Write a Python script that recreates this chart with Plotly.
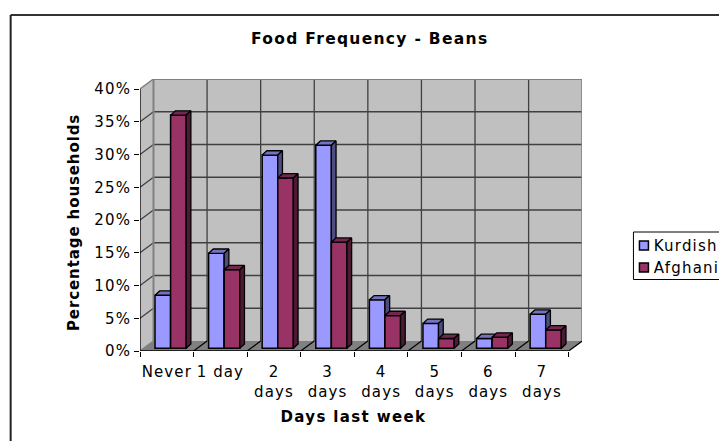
import plotly.graph_objects as go

categories = ["Never", "1 day", "2<br>days", "3<br>days", "4<br>days", "5<br>days", "6<br>days", "7<br>days"]
kurdish = [8.1, 14.5, 29.5, 31.0, 7.4, 3.8, 1.5, 5.2]
afghani = [35.6, 12.0, 26.0, 16.2, 5.0, 1.5, 1.7, 2.8]
y_ticks = [0, 5, 10, 15, 20, 25, 30, 35, 40]
y_labels = [f"{v}%" for v in y_ticks]

W, H = 719, 441
L, R, T, B = 139.5, 582.0, 79.0, 351.0
PX_X, PX_Y = 53.65, 6.55
FONT = "DejaVu Sans"
n = len(categories)
x_range = [-0.5, (R - L) / PX_X - 0.5]
y_range = [0, (B - T) / PX_Y]
ux, uy = 1 / PX_X, 1 / PX_Y
DX, DY = 13.5 * ux, 10 * uy        # wall depth
FX, FY = 3.8 * ux, 2.7 * uy        # bar front-face offset
SX, SY = 4.7 * ux, 4.3 * uy        # bar depth
BW = 15.6 * ux
px = lambda v: (v - L) / (R - L)
py = lambda v: (B - v) / (B - T)
x = list(range(n))

fig = go.Figure()

def add_series(name, vals, col, top, side, off, xa, ya):
    xs = [i + FX + off for i in x]
    fig.add_trace(go.Bar(x=xs, y=vals, base=[FY] * n, width=BW, name=name, marker=dict(color=col, line=dict(color="black", width=1.5)), xaxis=xa, yaxis=ya, showlegend=False))
    for c, poly in ((top, "top"), (side, "side")):
        px_, py_ = [], []
        for xc, v in zip(xs, vals):
            l, r, t = xc - BW / 2, xc + BW / 2, v + FY
            if poly == "top":
                px_ += [l, l + SX, r + SX, r, l, None]
                py_ += [t, t + SY, t + SY, t, t, None]
            else:
                px_ += [r, r + SX, r + SX, r, r, None]
                py_ += [FY, FY + SY, t + SY, t, FY, None]
        fig.add_trace(go.Scatter(x=px_, y=py_, mode="lines", fill="toself", fillcolor=c, line=dict(color="black", width=1.3), xaxis=xa, yaxis=ya, showlegend=False, hoverinfo="skip"))

add_series("Kurdish", kurdish, "#9999ff", "#7373c0", "#4d4d80", -BW / 2, "x", "y")
add_series("Afghani", afghani, "#993366", "#732650", "#4d1a33", BW / 2, "x2", "y2")

shapes = []
def poly(pts, fill):
    path = "M" + "L".join(f"{a},{b}" for a, b in pts) + "Z"
    shapes.append(dict(type="path", path=path, xref="x", yref="y", fillcolor=fill, line=dict(width=0), layer="below"))
def seg(x0, y0, x1, y1, col="#404040", w=1.3):
    shapes.append(dict(type="line", x0=x0, y0=y0, x1=x1, y1=y1, xref="x", yref="y", line=dict(color=col, width=w), layer="below"))

xl, xr = -0.5, n - 0.5
poly([(xl + DX, DY), (xr + DX, DY), (xr + DX, 40 + DY), (xl + DX, 40 + DY)], "#c0c0c0")
poly([(xl, 0), (xl + DX, DY), (xl + DX, 40 + DY), (xl, 40)], "#c0c0c0")
poly([(xl, 0), (xr, 0), (xr + DX, DY), (xl + DX, DY)], "#808080")
for v in y_ticks[1:-1]:
    seg(xl + DX, v + DY, xr + DX, v + DY)
    seg(xl, v, xl + DX, v + DY)
for i in range(1, n):
    seg(i - 0.5 + DX, DY, i - 0.5 + DX, 40 + DY)
for i in range(1, n + 1):
    seg(i - 0.5, 0, i - 0.5 + DX, DY, "black", 1.2)
seg(xl + DX, DY, xl + DX, 40 + DY, "#808080", 2)
seg(xr + DX, DY, xr + DX, 40 + DY, "#808080", 2)
seg(xl + DX, 40 + DY, xr + DX, 40 + DY, "#808080", 2)
seg(xl, 40, xl + DX, 40 + DY, "#808080", 1.5)
seg(xl, 0, xl + DX, DY, "#808080", 1.5)
seg(xl, 0, xl, 40, "black", 1.3)
seg(xl, 0, xr, 0, "black", 1.3)

def pline(x0, y0, x1, y1, col="#333333", w=2):
    shapes.append(dict(type="line", xref="paper", yref="paper", x0=px(x0), y0=py(y0), x1=px(x1), y1=py(y1), line=dict(color=col, width=w)))
def prect(x0, y0, x1, y1, fill, w=1.2):
    shapes.append(dict(type="rect", xref="paper", yref="paper", x0=px(x0), y0=py(y0), x1=px(x1), y1=py(y1), fillcolor=fill, line=dict(color="black", width=w)))
pline(10, 15, W + 5, 15)
pline(10, 15, 10, H + 5, "#222222")
prect(633.5, 232, W + 5, 279.5, "white", 1)
prect(639.5, 241, 648.5, 250, "#9999ff", 1.5)
prect(639.5, 263, 648.5, 272, "#993366", 1.5)

def note(text, xp, yp, size=15, bold=False, angle=0, anchor="center"):
    return dict(text=f"<b>{text}</b>" if bold else text, x=px(xp), y=py(yp), xref="paper", yref="paper", showarrow=False, xanchor=anchor, yanchor="middle", textangle=angle, font=dict(family=FONT, size=size, color="black"))

annotations = [
    note("Days last week", 353.5, 417, 15, True),
    note("Percentage households", 73, 223, 15, True, -90),
    note("Kurdish", 656, 246, 15, anchor="left"),
    note("Afghani", 656, 268, 15, anchor="left"),
]

axis_common = dict(range=x_range, showgrid=False, zeroline=False, showline=False)
fig.update_layout(
    width=W, height=H, autosize=False,
    margin=dict(l=L, r=W - R, t=T, b=H - B, pad=0),
    paper_bgcolor="white", plot_bgcolor="rgba(0,0,0,0)",
    barmode="overlay", showlegend=False,
    title=dict(text="<b>Food Frequency - Beans</b>", x=px(369.5), xref="paper", xanchor="center", y=1 - 39 / H, yanchor="middle", font=dict(family=FONT, size=15.5, color="black")),
    font=dict(family=FONT, size=15, color="black"),
    shapes=shapes, annotations=annotations,
    xaxis=dict(**axis_common, tickmode="array", tickvals=x, ticktext=categories, ticks="", ticklabelstandoff=10,
               minor=dict(tickmode="array", tickvals=[i - 0.5 for i in range(n + 1)], ticks="outside", ticklen=5, tickcolor="black", tickwidth=1.2),
               tickfont=dict(family=FONT, size=15, color="black")),
    yaxis=dict(range=y_range, tickmode="array", tickvals=y_ticks, ticktext=y_labels, ticks="outside", ticklen=5, tickcolor="black", tickwidth=1.2,
               showgrid=False, zeroline=False, showline=False, tickfont=dict(family=FONT, size=15, color="black")),
    xaxis2=dict(**axis_common, overlaying="x", visible=False),
    yaxis2=dict(range=y_range, overlaying="y", visible=False),
)
spacing_js = """
document.body.style.margin='0';document.body.style.overflow='hidden';
function spaceText(){
  var gd=document.getElementById('{plot_id}');
  gd.querySelectorAll('.xtick text,.ytick text').forEach(function(t){t.style.letterSpacing='1.1px';});
  gd.querySelectorAll('.gtitle').forEach(function(t){t.style.letterSpacing='1.3px';});
  gd.querySelectorAll('.annotation-text').forEach(function(t){
    var s=t.textContent;
    t.style.letterSpacing=(s.indexOf('Percentage')===0)?'0.9px':(s.indexOf('Days')===0?'1.35px':'1.2px');
  });
}
spaceText();setTimeout(spaceText,50);
"""
fig.write_html("out.html", post_script=spacing_js, config={"displayModeBar": False})
